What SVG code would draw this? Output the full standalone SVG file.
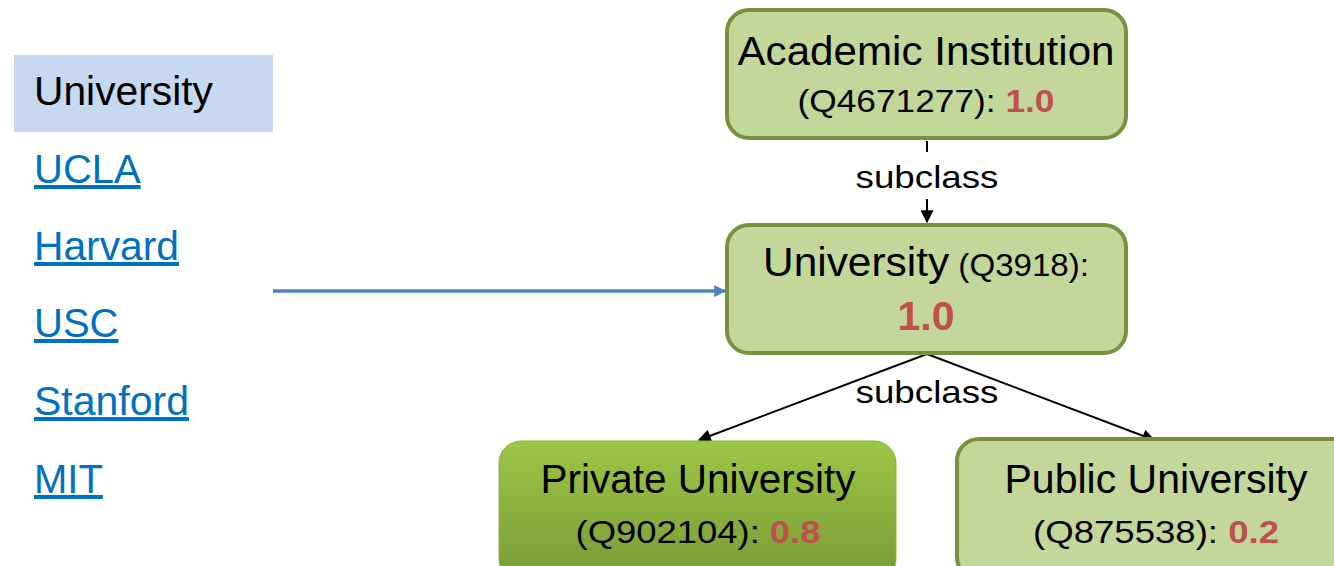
<svg xmlns="http://www.w3.org/2000/svg" width="1334" height="566" viewBox="0 0 1334 566">
<style>
text{font-family:"Liberation Sans","Open Sans",Arial,sans-serif;fill:#000}
.link{fill:#0070C0;font-size:40px;text-decoration:underline}
.box{fill:#C4D79B;stroke:#76923C;stroke-width:4}
.big{font-size:41px}
.mid{font-size:32px}
.score{fill:#C0504D;font-weight:bold}
.lbl{font-size:32px}
.edge{stroke:#000;stroke-width:2;fill:none}
</style>
<defs>
<marker id="ah" viewBox="0 0 10 10" refX="9" refY="5" markerWidth="14" markerHeight="13" orient="auto" markerUnits="userSpaceOnUse">
<path d="M0,0 L10,5 L0,10 z" fill="#000"/>
</marker>
<marker id="ahb" viewBox="0 0 10 10" refX="9" refY="5" markerWidth="12" markerHeight="12" orient="auto" markerUnits="userSpaceOnUse">
<path d="M0,0 L10,5 L0,10 z" fill="#4F81BD"/>
</marker>
<linearGradient id="gp" x1="0" y1="0" x2="0" y2="1">
<stop offset="0" stop-color="#9DC646"/>
<stop offset="1" stop-color="#789A36"/>
</linearGradient>
</defs>

<g id="list">
<rect x="14" y="55" width="259" height="77" fill="#C6D9F0"/>
<text x="34" y="105" font-size="40" textLength="179" lengthAdjust="spacingAndGlyphs">University</text>
<text class="link" x="34" y="183">UCLA</text>
<text class="link" x="34" y="260" textLength="145" lengthAdjust="spacingAndGlyphs">Harvard</text>
<text class="link" x="34" y="337">USC</text>
<text class="link" x="34" y="415" textLength="155" lengthAdjust="spacingAndGlyphs">Stanford</text>
<text class="link" x="34" y="493">MIT</text>
</g>

<g id="connectors">
<line x1="273" y1="291" x2="725" y2="291" stroke="#4F81BD" stroke-width="3.5" marker-end="url(#ahb)"/>
<line class="edge" x1="927" y1="141" x2="927" y2="152"/>
<text class="lbl" x="927" y="188" text-anchor="middle" textLength="143" lengthAdjust="spacingAndGlyphs">subclass</text>
<line class="edge" x1="927" y1="199" x2="927" y2="222" marker-end="url(#ah)"/>
<line class="edge" x1="927" y1="354" x2="699" y2="440" marker-end="url(#ah)"/>
<line class="edge" x1="927" y1="354" x2="1154" y2="440" marker-end="url(#ah)"/>
<text class="lbl" x="927" y="403" text-anchor="middle" textLength="143" lengthAdjust="spacingAndGlyphs">subclass</text>
</g>

<g id="academic">
<rect class="box" x="727" y="10" width="399" height="128" rx="22"/>
<text class="big" x="926" y="65" text-anchor="middle" textLength="377" lengthAdjust="spacingAndGlyphs">Academic Institution</text>
<text class="mid" x="926" y="112" text-anchor="middle" textLength="257" lengthAdjust="spacingAndGlyphs">(Q4671277): <tspan class="score">1.0</tspan></text>
</g>

<g id="university">
<rect class="box" x="727" y="225" width="399" height="128" rx="22"/>
<text x="926" y="276" text-anchor="middle" textLength="326" lengthAdjust="spacingAndGlyphs"><tspan class="big">University</tspan><tspan class="mid"> (Q3918):</tspan></text>
<text class="big score" x="926" y="330" text-anchor="middle">1.0</text>
</g>

<g id="private">
<rect x="499" y="441" width="397" height="140" rx="22" fill="url(#gp)" stroke="#8DB043" stroke-width="1"/>
<text class="big" x="698" y="493" text-anchor="middle" textLength="315" lengthAdjust="spacingAndGlyphs">Private University</text>
<text class="mid" x="698" y="543" text-anchor="middle" textLength="245" lengthAdjust="spacingAndGlyphs">(Q902104): <tspan class="score">0.8</tspan></text>
</g>

<g id="public">
<rect class="box" x="957" y="439" width="400" height="140" rx="22"/>
<text class="big" x="1156" y="493" text-anchor="middle" textLength="303" lengthAdjust="spacingAndGlyphs">Public University</text>
<text class="mid" x="1156" y="543" text-anchor="middle" textLength="246" lengthAdjust="spacingAndGlyphs">(Q875538): <tspan class="score">0.2</tspan></text>
</g>
</svg>
